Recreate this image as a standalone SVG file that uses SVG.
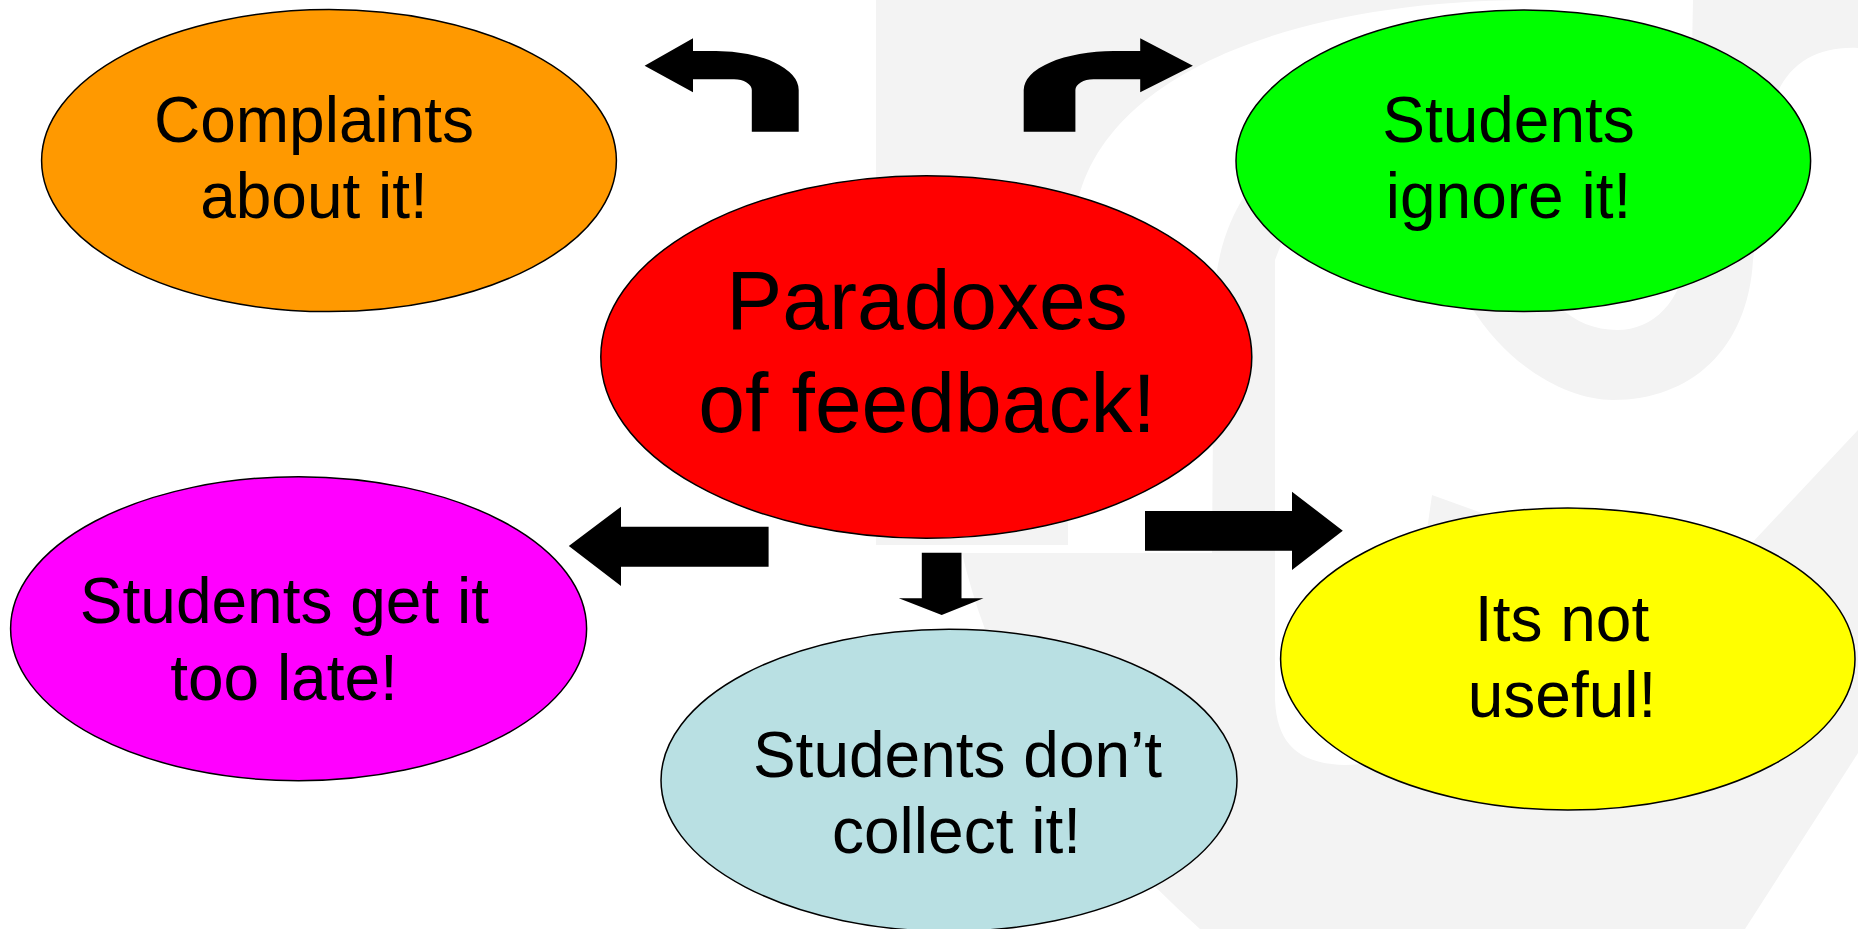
<svg xmlns="http://www.w3.org/2000/svg" width="1858" height="929" viewBox="0 0 1858 929">
  <style>
    .mark { fill: #f3f3f3; stroke: none; }
    .arrow { fill: #000000; stroke: none; }
    .bubble { stroke: #000000; stroke-width: 1.5; }
    .label { font-family: "Liberation Sans", Arial, sans-serif; font-size: 64px; fill: #000000; text-anchor: middle; }
    .title { font-family: "Liberation Sans", Arial, sans-serif; font-size: 84px; fill: #000000; text-anchor: middle; }
  </style>

  <!-- slide background -->
  <rect x="0" y="0" width="1858" height="929" fill="#ffffff"/>

  <!-- faint background emblem -->
  <g id="emblem">
    <path class="mark" d="M876,0 L1533,0 C1300,0 1110,70 1078,200 C1070,240 1068,300 1068,545 L876,545 Z"/>
    <path class="mark" d="M1693,0 H1858 V48 C1815,46 1782,66 1772,110 L1753,260 C1748,350 1690,400 1613,400 C1570,400 1510,370 1470,305 L1480,200 L1560,200 L1557,305 C1575,322 1595,330 1617,330 C1655,330 1683,300 1688,250 Z"/>
    <path class="mark" d="M962,553 L1212,553 L1214,300 C1216,255 1228,222 1245,195 L1300,195 L1275,260 L1275,700 C1277,745 1300,764 1345,765 C1380,765 1395,750 1400,720 L1432,495 L1493,517 L1750,545 L1858,430 L1858,753 L1745,929 L1200,929 Q1010,760 962,553 Z"/>
  </g>

  <!-- arrows leading out from the central idea -->
  <g id="connectors">
    <path id="arrow-complaints" class="arrow" d="M644.6,65.7 L693,38.3 L693,51 L716,51 A82.7,39 0 0 1 798.7,90 L798.7,131.7 L751.8,131.7 L751.8,90 A17.8,10.7 0 0 0 734,79.3 L693,79.3 L693,92.3 Z"/>
    <path id="arrow-ignore" class="arrow" d="M1192.9,65.7 L1140.2,38.3 L1140.2,51 L1114,51 A90,39 0 0 0 1023.7,90 L1023.7,131.7 L1075.4,131.7 L1075.4,90 A18,10.7 0 0 1 1093.4,79.3 L1140.2,79.3 L1140.2,92.3 Z"/>
    <path id="arrow-late" class="arrow" d="M568.8,546 L621,506.7 L621,526.7 L768.6,526.7 L768.6,566.7 L621,566.7 L621,586 Z"/>
    <path id="arrow-collect" class="arrow" d="M921.8,552.7 H961.5 V598.3 H983.5 L941.7,615 L898.8,598.3 H921.8 Z"/>
    <path id="arrow-useful" class="arrow" d="M1145,511 H1292 V491.7 L1342.8,530.7 L1292,570 V550.7 H1145 Z"/>
  </g>

  <g id="node-complaints">
    <ellipse class="bubble" cx="329" cy="160.6" rx="287.4" ry="151" fill="#ff9900"/>
    <text class="label" x="314" y="141.7">Complaints</text>
    <text class="label" x="314" y="218.3">about it!</text>
  </g>

  <g id="node-ignore">
    <ellipse class="bubble" cx="1523.3" cy="160.8" rx="287.3" ry="150.8" fill="#00ff00"/>
    <text class="label" x="1508.5" y="141.7">Students</text>
    <text class="label" x="1508.5" y="218.3">ignore it!</text>
  </g>

  <g id="node-paradoxes">
    <ellipse class="bubble" cx="926.3" cy="357" rx="325.5" ry="181.3" fill="#ff0000"/>
    <text class="title" x="927" y="329">Paradoxes</text>
    <text class="title" x="927" y="431.7">of feedback!</text>
  </g>

  <g id="node-late">
    <ellipse class="bubble" cx="298.6" cy="628.7" rx="288" ry="152" fill="#ff00ff"/>
    <text class="label" x="284.4" y="623">Students get it</text>
    <text class="label" x="284" y="700">too late!</text>
  </g>

  <g id="node-collect">
    <ellipse class="bubble" cx="949" cy="780.3" rx="288" ry="151" fill="#b9e0e3"/>
    <text class="label" x="957.5" y="776.7">Students don’t</text>
    <text class="label" x="956.5" y="853.3">collect it!</text>
  </g>

  <g id="node-useful">
    <ellipse class="bubble" cx="1567.8" cy="659" rx="287.2" ry="151" fill="#ffff00"/>
    <text class="label" x="1562" y="640.7">Its not</text>
    <text class="label" x="1562" y="717.3">useful!</text>
  </g>
</svg>
